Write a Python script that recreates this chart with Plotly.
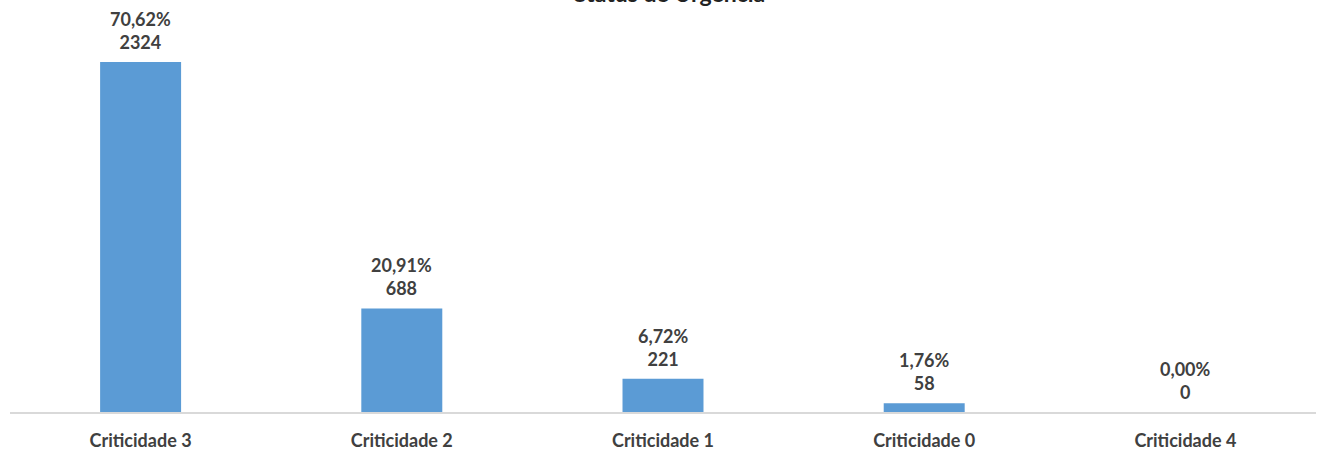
import plotly.graph_objects as go

categories = ["Criticidade 3", "Criticidade 2", "Criticidade 1", "Criticidade 0", "Criticidade 4"]
values = [2324, 688, 221, 58, 0]
percent_labels = ["70,62%", "20,91%", "6,72%", "1,76%", "0,00%"]
title_text = "Status de Urgência"

FONT = "Lato"
TXT = "#404040"

fig = go.Figure()
fig.add_trace(go.Bar(
    x=categories, y=values,
    marker=dict(color="#5B9BD5", line=dict(width=0)),
    hoverinfo="skip",
))

for c, v, p in zip(categories, values, percent_labels):
    fig.add_annotation(
        x=c, y=v, xref="x", yref="y",
        text=f"<b>{p}</b><br><b>{v}</b>",
        showarrow=False, yanchor="bottom", yshift=7,
        font=dict(family=FONT, size=18, color=TXT),
    )

fig.add_annotation(
    x=0.505, y=1 + 7 / 412, xref="paper", yref="paper",
    text=f"<b>{title_text}</b>", showarrow=False,
    yanchor="middle", font=dict(family=FONT, size=23, color="#222222"),
)

fig.update_layout(
    width=1317, height=454,
    margin=dict(l=10, r=1, t=0, b=42),
    paper_bgcolor="white", plot_bgcolor="white",
    bargap=0.69, showlegend=False,
    font=dict(family=FONT, color=TXT),
)
fig.update_xaxes(
    showline=True, linecolor="#d9d9d9", linewidth=1.5,
    showgrid=False, ticks="", ticklabelstandoff=12,
    tickfont=dict(family=FONT, size=18, color=TXT, weight="bold"),
)
fig.update_yaxes(
    visible=False, range=[0, 2736], showgrid=False, zeroline=False,
)

fig.write_html(
    "out.html",
    config={"displayModeBar": False},
    post_script="document.body.style.margin='0';document.body.style.overflow='hidden';",
)
